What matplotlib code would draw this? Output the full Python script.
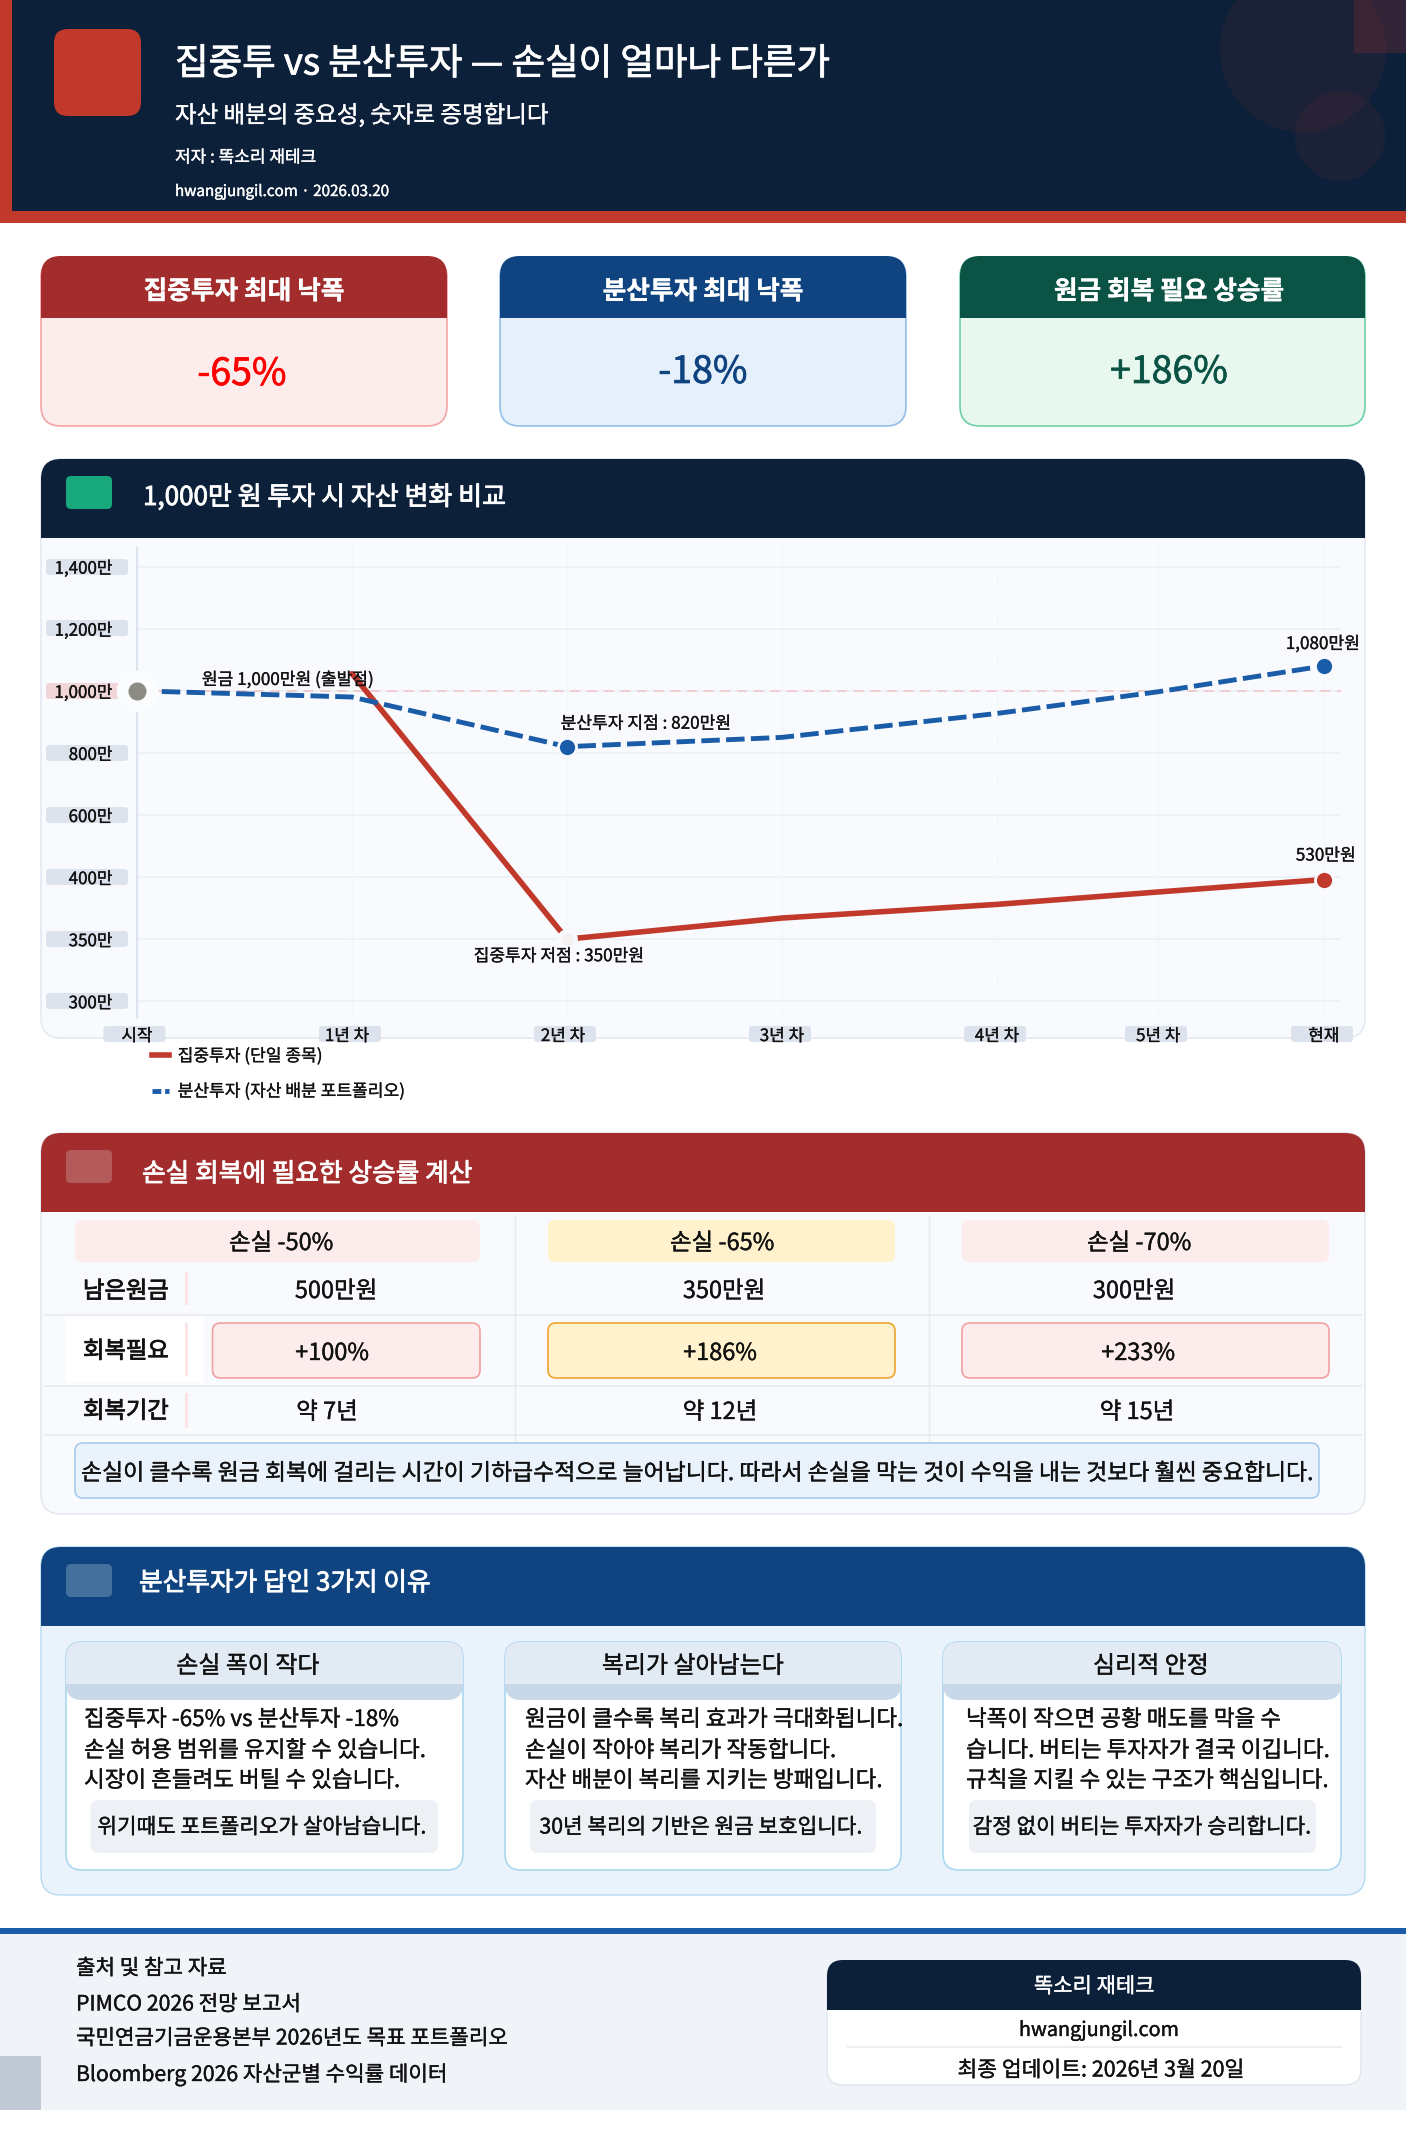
import numpy as np
import matplotlib
matplotlib.use('Agg')
import matplotlib.pyplot as plt
import matplotlib.patheffects as pe
from matplotlib.lines import Line2D
from matplotlib.patches import Circle, FancyBboxPatch, Rectangle
from matplotlib.transforms import ScaledTranslation

plt.rcParams['font.family'] = ['Noto Sans CJK KR', 'DejaVu Sans']

# chart data, y axis is not linear in the original so levels are spaced evenly
x_labels = ['시작', '1년 차', '2년 차', '3년 차', '4년 차', '5년 차', '현재']
x_years = [0, 1, 2, 3, 4, 4.75, 5.52]
y_levels = [300, 350, 400, 600, 800, 1000, 1200, 1400]
y_labels = ['300만', '350만', '400만', '600만', '800만', '1,000만', '1,200만', '1,400만']
red_values = [np.nan, 1055, 350, 367, 378, 388, 398]
blue_values = [1000, 980, 820, 850, 927, 997, 1080]

kpi_titles = ['집중투자 최대 낙폭', '분산투자 최대 낙폭', '원금 회복 필요 상승률']
kpi_values = ['-65%', '-18%', '+186%']

loss_heads = ['손실 -50%', '손실 -65%', '손실 -70%']
row_labels = ['남은원금', '회복필요', '회복기간']
remaining = ['500만원', '350만원', '300만원']
recovery = ['+100%', '+186%', '+233%']
periods = ['약 7년', '약 12년', '약 15년']

reason_titles = ['손실 폭이 작다', '복리가 살아남는다', '심리적 안정']
reason_lines = [
    ['집중투자 -65% vs 분산투자 -18%', '손실 허용 범위를 유지할 수 있습니다.', '시장이 흔들려도 버틸 수 있습니다.'],
    ['원금이 클수록 복리 효과가 극대화됩니다.', '손실이 작아야 복리가 작동합니다.', '자산 배분이 복리를 지키는 방패입니다.'],
    ['낙폭이 작으면 공황 매도를 막을 수', '습니다. 버티는 투자자가 결국 이깁니다.', '규칙을 지킬 수 있는 구조가 핵심입니다.'],
]
reason_notes = ['위기때도 포트폴리오가 살아남습니다.', '30년 복리의 기반은 원금 보호입니다.', '감정 없이 버티는 투자자가 승리합니다.']

sources = ['출처 및 참고 자료', 'PIMCO 2026 전망 보고서', '국민연금기금운용본부 2026년도 목표 포트폴리오', 'Bloomberg 2026 자산군별 수익률 데이터']

NAVY = '#0D2039'
RED = '#C0392B'
DARK_RED = '#A32D2D'
DARK_BLUE = '#0F4480'
BLUE = '#1A5CA8'
GREEN = '#0B5344'
PANEL = '#F8FAFD'
INK = '#111111'

fig = plt.figure(figsize=(14.06, 21.30), dpi=100)

# full page axes in pixel coordinates for all the cards and boxes
bg = fig.add_axes([0, 0, 1, 1])
bg.set_xlim(0, 1406)
bg.set_ylim(2130, 0)
bg.axis('off')


def box(x0, y0, x1, y1, fc, ec='none', r=0, lw=1.0, z=1):
    if r == 0:
        p = Rectangle((x0, y0), x1 - x0, y1 - y0, fc=fc, ec=ec, lw=lw, zorder=z)
    else:
        p = FancyBboxPatch((x0, y0), x1 - x0, y1 - y0, boxstyle=f'round,pad=0,rounding_size={r}',
                           fc=fc, ec=ec, lw=lw, zorder=z)
    bg.add_patch(p)
    return p


def top_box(x0, y0, x1, y1, fc, r=20, z=2):
    # rounded on top only
    p = box(x0, y0, x1, y1 + r + 2, fc, r=r, z=z)
    p.set_clip_path(Rectangle((x0 - 2, y0 - 2), x1 - x0 + 4, y1 - y0 + 2, transform=bg.transData))
    return p


def thicken(t, color, w=0.25):
    # reference text is a bit heavier than the regular weight
    t.set_path_effects([pe.withStroke(linewidth=w, foreground=color)])
    return t


def put(x, y, s, px, color=INK, ha='left', weight='normal', z=5, w=0.25):
    t = bg.text(x, y + 2.5, s, fontsize=px * 0.72, color=color, ha=ha, va='center', fontweight=weight, zorder=z)
    return thicken(t, color, w)


# header
box(0, 0, 1406, 212, NAVY)
box(0, 0, 12, 223, RED, z=2)
box(0, 211, 1406, 223, RED, z=2)
for c in [Circle((1303, 49), 83), Circle((1340, 136), 45)]:
    c.set(fc=RED, alpha=0.08, ec='none', zorder=1.5)
    bg.add_patch(c)
box(1354, 0, 1406, 53, RED, z=1.6).set_alpha(0.2)
box(54, 29, 141, 116, RED, r=14, z=2)
put(175, 62, '집중투 vs 분산투자 — 손실이 얼마나 다른가', 36.5, 'white', w=0.6)
put(175, 113, '자산 배분의 중요성, 숫자로 증명합니다', 23.5, 'white')
put(175, 155, '저자 : 똑소리 재테크', 17, 'white')
put(175, 189, 'hwangjungil.com · 2026.03.20', 15.2, 'white')

# kpi cards
kpi_x = [(41, 447), (500, 906), (960, 1365)]
kpi_head = [DARK_RED, DARK_BLUE, GREEN]
kpi_fill = ['#FDECEC', '#E6F0FB', '#E8F8EF']
kpi_edge = ['#F5A5A5', '#93BEEA', '#6FCFA6']
kpi_color = ['#FF0000', DARK_BLUE, GREEN]
kpi_title_x = [244, 703, 1169]
kpi_value_x = [242, 703, 1169]
kpi_value_y = [372, 370, 370]
for i, (x0, x1) in enumerate(kpi_x):
    box(x0, 257, x1, 426, kpi_fill[i], kpi_edge[i], r=20, lw=1.2)
    top_box(x0, 256, x1, 318, kpi_head[i])
    put(kpi_title_x[i], 289, kpi_titles[i], 25.7, 'white', ha='center', weight='bold', w=0.2)
    put(kpi_value_x[i], kpi_value_y[i], kpi_values[i], 37.5, kpi_color[i], ha='center', w=0.5)

# chart section frame
box(41, 459, 1365, 1038, PANEL, '#E0E6EF', r=20)
top_box(41, 459, 1365, 538, NAVY)
box(66, 476, 112, 509, '#17A97B', r=5, z=3)
put(143, 495, '1,000만 원 투자 시 자산 변화 비교', 26, 'white', w=0.6)

# tick label pills
level_y = [1001, 939, 877, 815, 753, 691, 628, 567]
for lv, yy in zip(y_levels, level_y):
    box(46, yy - 8, 128, yy + 8, '#F0D6D6' if lv == 1000 else '#DDE3ED', r=3, z=2)
for xx in [134.5, 350, 565, 780, 995, 1156, 1322]:
    box(xx - 31, 1026, xx + 31, 1042, '#DDE3ED', r=3, z=2)

# chart itself
ax = fig.add_axes([137 / 1406, 1 - 1018 / 2130, (1341 - 137) / 1406, (1018 - 548) / 2130])
ax.patch.set_alpha(0)
scale_v = [250] + y_levels + [1600]
scale_i = list(range(-1, 9))
ax.set_yscale('function', functions=(lambda v: np.interp(v, scale_v, scale_i),
                                     lambda i: np.interp(i, scale_i, scale_v)))
ax.set_ylim(286.5, 1460)
ax.set_xlim(0, 5.6)
ax.set_yticks(y_levels, y_labels)
ax.set_xticks(x_years, x_labels)
ax.minorticks_off()
ax.tick_params(axis='y', length=0, pad=17.5, labelsize=12.2, labelcolor=INK)
ax.tick_params(axis='x', length=0, pad=6.5, labelsize=12.2, labelcolor=INK)
for lab in ax.get_yticklabels():
    thicken(lab, INK, 0.2)
for lab, dx in zip(ax.get_xticklabels(), [0, -5, -4, 0, 0, 0, 0]):
    thicken(lab, INK, 0.2)
    lab.set_transform(lab.get_transform() + ScaledTranslation(dx / 100, 0, fig.dpi_scale_trans))
for s in ['top', 'right', 'bottom']:
    ax.spines[s].set_visible(False)
ax.spines['left'].set_color('#DDE3ED')
ax.spines['left'].set_linewidth(1.5)
ax.grid(axis='y', color='#EDF0F6', lw=1.2)
ax.grid(axis='x', color='#EFF2F7', lw=0.8, ls=(0, (3, 3)))
ax.set_axisbelow(True)

ax.axhline(1000, color='#F0C8C8', lw=1.2, ls=(0, (6, 4)), zorder=1)
ax.plot(x_years, red_values, color=RED, lw=4, solid_capstyle='round', zorder=3)
ax.plot(x_years, blue_values, color=BLUE, lw=3.5, dashes=(3.8, 1.3), zorder=4)

# markers with a halo that hides the line ends
ax.plot(0, 1000, 'o', ms=30, color='#FBFCFE', mec='none', clip_on=False, zorder=5)
ax.plot(0, 1000, 'o', ms=13, color='#8C8C85', mec='none', clip_on=False, zorder=6)
ax.plot(2, 350, 'o', ms=12, color='#F5F1F0', mec=PANEL, mew=3, zorder=6)
ax.plot([2, 5.52], [820, 1080], 'o', ms=13, color=BLUE, mec=PANEL, mew=2, zorder=6)
ax.plot(5.52, 398, 'o', ms=13, color=RED, mec=PANEL, mew=2, zorder=6)

notes = [('원금 1,000만원 (출발점)', 0, 1000, 151, 11),
         ('분산투자 지점 : 820만원', 2, 820, 79, 23),
         ('집중투자 저점 : 350만원', 2, 350, -8, -17),
         ('1,080만원', 5.52, 1080, -1, 22),
         ('530만원', 5.52, 398, 2, 24)]
for txt, nx, ny, dx, dy in notes:
    t = ax.annotate(txt, xy=(nx, ny), xytext=(dx, dy), textcoords='offset pixels', ha='center', va='center',
                    fontsize=12.3, color=INK, zorder=7, annotation_clip=False)
    thicken(t, INK, 0.2)

handles = [Line2D([], [], color=RED, lw=4),
           Line2D([], [], color=BLUE, lw=3.5, dashes=(1.8, 0.8))]
leg = fig.legend(handles, ['집중투자 (단일 종목)', '분산투자 (자산 배분 포트폴리오)'], loc='upper left',
                 bbox_to_anchor=(152 / 1406, 1 - 1047 / 2130), frameon=False, fontsize=12.3,
                 handlelength=1.0, handletextpad=0.5, borderpad=0, borderaxespad=0, labelspacing=1.0,
                 labelcolor=INK)
for t in leg.get_texts():
    thicken(t, INK, 0.2)

# loss table section
box(41, 1133, 1365, 1514, PANEL, '#E0E6EF', r=20)
top_box(41, 1133, 1365, 1212, DARK_RED)
box(66, 1150, 112, 1183, '#B55A5A', r=5, z=3)
put(142, 1172, '손실 회복에 필요한 상승률 계산', 25.7, 'white', w=0.6)

for yy in [1315, 1386, 1435]:
    bg.plot([45, 1361], [yy, yy], color='#E8ECF2', lw=1.2, zorder=1.5)
for xx in [515, 929]:
    bg.plot([xx, xx], [1216, 1443], color='#E6EAF1', lw=1.0, zorder=1.5)

col_x = [(75, 480), (548, 895), (962, 1329)]
head_fill = ['#FDECEC', '#FFF2CC', '#FDECEC']
head_cx = [281, 722, 1139]
for i, (x0, x1) in enumerate(col_x):
    box(x0, 1220, x1, 1262, head_fill[i], r=7, z=2)
    put(head_cx[i], 1241, loss_heads[i], 23.5, ha='center')

box(65, 1317, 204, 1383, 'white', z=2)
for lab, yy, (t0, t1) in zip(row_labels, [1289, 1349, 1409], [(1272, 1305), (1323, 1376), (1393, 1428)]):
    put(83, yy, lab, 23.3, w=0.6)
    box(185, t0, 188, t1, '#FCE4E4', z=3)

val_x = [336, 724, 1134]
for i in range(3):
    put(val_x[i], 1289, remaining[i], 23.5, ha='center')

rec_x = [(212.5, 480), (548, 895), (962, 1329)]
rec_fill = ['#FDECEC', '#FFF2CC', '#FDECEC']
rec_edge = ['#F2A0A0', '#EFA52F', '#F2A0A0']
rec_cx = [332, 720, 1138]
for i, (x0, x1) in enumerate(rec_x):
    box(x0, 1323, x1, 1378, rec_fill[i], rec_edge[i], r=8, lw=1.2, z=2)
    put(rec_cx[i], 1351, recovery[i], 23.5, ha='center')

per_x = [327, 720, 1137]
for i in range(3):
    put(per_x[i], 1410, periods[i], 23.5, ha='center')

box(75, 1443, 1319, 1498, '#EAF3FB', '#A8CBEE', r=8, lw=1.2, z=2)
put(81, 1471, '손실이 클수록 원금 회복에 걸리는 시간이 기하급수적으로 늘어납니다. 따라서 손실을 막는 것이 수익을 내는 것보다 훨씬 중요합니다.', 22.9)

# reasons section
box(41, 1547, 1365, 1895, '#EAF3FB', '#B5DAF0', r=20)
top_box(41, 1547, 1365, 1626, DARK_BLUE)
box(66, 1564, 112, 1597, '#44709E', r=5, z=3)
put(139, 1581, '분산투자가 답인 3가지 이유', 25.7, 'white', w=0.6)

card_x = [(66, 463), (505, 901), (943, 1341)]
title_cx = [248, 693, 1151]
line_x = [84, 525, 966]
note_x = [(90.6, 438), (530, 876), (969, 1316)]
note_cx = [262, 701, 1142]
for i, (x0, x1) in enumerate(card_x):
    box(x0, 1642, x1, 1870, 'white', '#A9D8EE', r=16, lw=1.2, z=2)
    box(x0, 1642, x1, 1700, '#C8D8E9', r=16, z=3)
    top_box(x0, 1642, x1, 1684, '#E2EAF4', r=16, z=3.5)
    put(title_cx[i], 1664, reason_titles[i], 24, ha='center')
    for yy, line in zip([1717, 1748, 1778], reason_lines[i]):
        put(line_x[i], yy, line, 22.5)
    box(note_x[i][0], 1800, note_x[i][1], 1853, '#EDF0F5', r=8, z=3)
    put(note_cx[i], 1825, reason_notes[i], 21.3, ha='center')

# footer
box(0, 1934, 1406, 2110, '#F0F3F8')
box(0, 1928, 1406, 1934, BLUE, z=2)
box(0, 2056, 41, 2110, '#C1C9D6', z=2)
for yy, line in zip([1966, 2002, 2036, 2072], sources):
    put(76, yy, line, 21.2)

box(827, 1961, 1361, 2085, 'white', '#E3E8F0', r=16, lw=1.2, z=2)
top_box(827, 1960, 1361, 2010, NAVY, r=16, z=3)
put(1094, 1984, '똑소리 재테크', 21, 'white', ha='center')
put(1099, 2028, 'hwangjungil.com', 19.8, ha='center')
bg.plot([848, 1341], [2047, 2047], color='#ECEFF4', lw=1.5, zorder=3)
put(1101, 2068, '최종 업데이트: 2026년 3월 20일', 21.5, ha='center')

fig.savefig('out.png', dpi=100)
